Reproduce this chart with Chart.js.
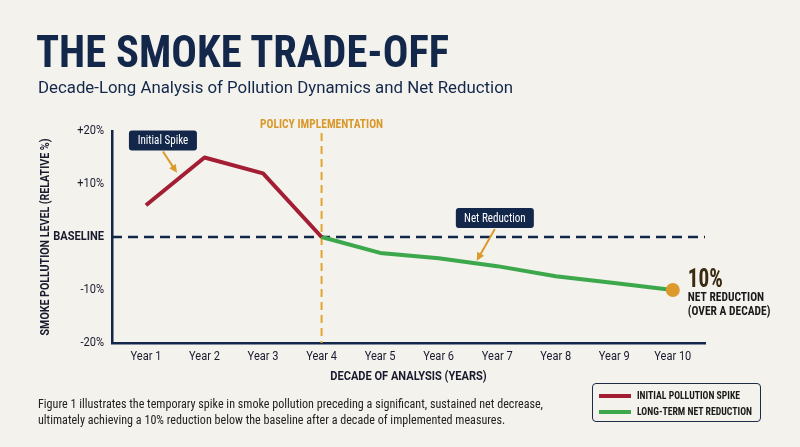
<!DOCTYPE html>
<html>
<head>
<meta charset="utf-8">
<script src="https://cdn.jsdelivr.net/npm/chart.js@4.4.1/dist/chart.umd.min.js"></script>
<style>
  html, body { margin: 0; padding: 0; background: #f3f2ed; }
  #wrap { position: relative; width: 800px; height: 447px; overflow: hidden; }
  #chart { position: absolute; left: 0; top: 0; }
  .narrow { font-family: Roboto, sans-serif; font-stretch: 75%; }
  .fit { position: absolute; display: inline-block; white-space: nowrap; transform-origin: 0 0; }
  #title { left: 36px; top: 27px; font-size: 44px; line-height: 50px; font-weight: bold; color: #13274a; }
  #subtitle { left: 38px; top: 77px; font-family: Roboto, sans-serif; font-size: 16.8px; color: #13274a; }
  .cap { left: 38px; font-size: 13px; line-height: 16px; color: #222; }
  #legend { position: absolute; left: 592px; top: 383px; width: 169px; height: 39px; border: 1.5px solid #1d2b48; border-radius: 4px; box-sizing: border-box; }
  .sw { position: absolute; left: 6px; width: 32px; height: 4px; }
  .lg { left: 44px; font-size: 10.5px; line-height: 12px; font-weight: bold; color: #1a1a1a; }
</style>
</head>
<body>
<div id="wrap">
  <canvas id="chart" width="800" height="447"></canvas>
  <div id="title" class="fit narrow">THE SMOKE TRADE-OFF</div>
  <div id="subtitle" class="fit">Decade-Long Analysis of Pollution Dynamics and Net Reduction</div>
  <div id="cap1" class="fit narrow cap" style="top:396px">Figure 1 illustrates the temporary spike in smoke pollution preceding a significant, sustained net decrease,</div>
  <div id="cap2" class="fit narrow cap" style="top:412px">ultimately achieving a 10% reduction below the baseline after a decade of implemented measures.</div>
  <div id="legend"></div>
</div>
<script>
const years = ['Year 1', 'Year 2', 'Year 3', 'Year 4', 'Year 5', 'Year 6', 'Year 7', 'Year 8', 'Year 9', 'Year 10'];
// relative smoke level in % against the baseline
const spikeYears = [1, 2, 3, 4];
const spikeValues = [6, 15, 12, 0];
const reductionYears = [4, 5, 6, 7, 8, 9, 10];
const reductionValues = [0, -3, -4, -5.5, -7.4, -8.7, -10];
const yTicks = [-20, -10, 0, 10, 20];
const policyYear = 4;

const NAVY = '#13274a';
const RED = '#a31d33';
const GREEN = '#3da74c';
const ORANGE = '#dc9a2c';
const FAM = 'Roboto, sans-serif';
const COND = 'condensed'; // sits in the font style slot -> "condensed bold 12px Roboto"
const SQUEEZE = 0.85;     // the reference face is narrower than Roboto condensed

const canvas = document.getElementById('chart');
const ctx2d = canvas.getContext('2d');
// squeeze every canvas label a bit more around its anchor point
const rawFillText = ctx2d.fillText;
ctx2d.fillText = function (text, x, y) {
    this.save();
    this.translate(x, y);
    this.scale(SQUEEZE, 1);
    rawFillText.call(this, text, 0, 0);
    this.restore();
};

const toPoints = (xs, ys) => xs.map((x, i) => ({x: x, y: ys[i]}));

function roundRect(ctx, x, y, w, h, r) {
    ctx.beginPath();
    ctx.moveTo(x + r, y);
    ctx.arcTo(x + w, y, x + w, y + h, r);
    ctx.arcTo(x + w, y + h, x, y + h, r);
    ctx.arcTo(x, y + h, x, y, r);
    ctx.arcTo(x, y, x + w, y, r);
    ctx.closePath();
}

function arrow(ctx, x1, y1, x2, y2) {
    const a = Math.atan2(y2 - y1, x2 - x1);
    ctx.strokeStyle = ORANGE;
    ctx.fillStyle = ORANGE;
    ctx.lineWidth = 2;
    ctx.beginPath();
    ctx.moveTo(x1, y1);
    ctx.lineTo(x2 - 6 * Math.cos(a), y2 - 6 * Math.sin(a));
    ctx.stroke();
    ctx.beginPath();
    ctx.moveTo(x2, y2);
    ctx.lineTo(x2 - 9 * Math.cos(a - 0.45), y2 - 9 * Math.sin(a - 0.45));
    ctx.lineTo(x2 - 9 * Math.cos(a + 0.45), y2 - 9 * Math.sin(a + 0.45));
    ctx.closePath();
    ctx.fill();
}

function callout(ctx, text, cx, cy, w) {
    ctx.fillStyle = NAVY;
    roundRect(ctx, cx - w / 2, cy - 10, w, 20, 3);
    ctx.fill();
    ctx.fillStyle = '#ffffff';
    ctx.font = COND + ' 13px ' + FAM;
    ctx.textAlign = 'center';
    ctx.textBaseline = 'middle';
    ctx.fillText(text, cx, cy + 0.5);
}

// baseline and policy marker, under the lines
const guides = {
    id: 'guides',
    beforeDatasetsDraw(chart) {
        const {ctx, chartArea, scales: {x, y}} = chart;
        const y0 = y.getPixelForValue(0);
        const xp = x.getPixelForValue(policyYear);
        ctx.save();
        ctx.strokeStyle = NAVY;
        ctx.lineWidth = 2.5;
        ctx.setLineDash([10, 6]);
        ctx.beginPath();
        ctx.moveTo(chartArea.left, y0);
        ctx.lineTo(chartArea.right, y0);
        ctx.stroke();
        ctx.strokeStyle = '#e3a531';
        ctx.lineWidth = 2;
        ctx.setLineDash([8, 5]);
        ctx.beginPath();
        ctx.moveTo(xp, chartArea.top + 2);
        ctx.lineTo(xp, chartArea.bottom);
        ctx.stroke();
        ctx.setLineDash([]);
        ctx.fillStyle = '#d9992a';
        ctx.font = COND + ' bold 13.5px ' + FAM;
        ctx.textAlign = 'center';
        ctx.textBaseline = 'middle';
        ctx.fillText('POLICY IMPLEMENTATION', xp, chartArea.top - 6);
        ctx.restore();
    }
};

// callouts and the end label
const notes = {
    id: 'notes',
    afterDatasetsDraw(chart) {
        const {ctx, scales: {x, y}} = chart;
        ctx.save();
        const sx = x.getPixelForValue(1.29), sy = y.getPixelForValue(18.2);
        callout(ctx, 'Initial Spike', sx, sy, 68);
        arrow(ctx, sx, sy + 11, x.getPixelForValue(1.53), y.getPixelForValue(12.1));
        const nx = x.getPixelForValue(6.96), ny = y.getPixelForValue(3.6);
        callout(ctx, 'Net Reduction', nx, ny, 78);
        arrow(ctx, nx, ny + 11, x.getPixelForValue(6.65), y.getPixelForValue(-4.5));

        const last = reductionValues.length - 1;
        const ex = x.getPixelForValue(reductionYears[last]) + 15;
        const ey = y.getPixelForValue(reductionValues[last]);
        ctx.textAlign = 'left';
        ctx.textBaseline = 'middle';
        ctx.fillStyle = '#3a2a10';
        ctx.font = COND + ' bold 25px ' + FAM;
        ctx.fillText(Math.abs(reductionValues[last]) + '%', ex, ey - 9);
        ctx.fillStyle = '#1a1a1a';
        ctx.font = COND + ' bold 13.5px ' + FAM;
        ctx.fillText('NET REDUCTION', ex, ey + 8);
        ctx.fillText('(OVER A DECADE)', ex, ey + 22);
        ctx.restore();
    }
};

const chart = new Chart(canvas, {
    type: 'line',
    data: {
        datasets: [{
            label: 'INITIAL POLLUTION SPIKE',
            data: toPoints(spikeYears, spikeValues),
            borderColor: RED,
            backgroundColor: RED,
            borderWidth: 4,
            pointRadius: 0,
            borderJoinStyle: 'round',
            tension: 0
        }, {
            label: 'LONG-TERM NET REDUCTION',
            data: toPoints(reductionYears, reductionValues),
            borderColor: GREEN,
            backgroundColor: GREEN,
            borderWidth: 4,
            borderJoinStyle: 'round',
            pointRadius: ctx => ctx.dataIndex === reductionValues.length - 1 ? 7 : 0,
            pointBackgroundColor: ORANGE,
            pointBorderWidth: 0,
            tension: 0
        }]
    },
    options: {
        responsive: false,
        animation: false,
        layout: {padding: {top: 131, right: 95, bottom: 62, left: 0}},
        plugins: {
            legend: {display: false},
            tooltip: {enabled: false}
        },
        scales: {
            x: {
                type: 'linear',
                min: 0.42,
                max: 10.55,
                afterBuildTicks: scale => {
                    scale.ticks = years.map((_, i) => ({value: i + 1}));
                },
                afterFit: scale => { scale.height = 42; },
                grid: {display: false, drawTicks: false},
                border: {color: NAVY, width: 2.5},
                ticks: {
                    padding: 6,
                    color: '#1a1a2e',
                    font: {family: FAM, style: COND, size: 13},
                    callback: v => years[v - 1]
                },
                title: {
                    display: true,
                    text: 'DECADE OF ANALYSIS (YEARS)',
                    color: '#1a1a2e',
                    font: {family: FAM, style: COND, size: 13, weight: 'bold'},
                    padding: {top: 0, bottom: 0}
                }
            },
            y: {
                min: -20,
                max: 20,
                afterBuildTicks: scale => {
                    scale.ticks = yTicks.map(v => ({value: v}));
                },
                afterFit: scale => { scale.width = 112; },
                grid: {display: false, drawTicks: false},
                border: {color: NAVY, width: 2.5},
                ticks: {
                    padding: 8,
                    color: '#1a1a2e',
                    font: ctx => ctx.tick && ctx.tick.value === 0
                        ? {family: FAM, style: COND, size: 13, weight: 'bold'}
                        : {family: FAM, style: COND, size: 13},
                    callback: v => v === 0 ? 'BASELINE' : (v > 0 ? '+' + v + '%' : v + '%')
                },
                title: {
                    display: true,
                    text: 'SMOKE POLLUTION LEVEL (RELATIVE %)',
                    color: '#1a1a2e',
                    font: {family: FAM, style: COND, size: 12.5, weight: 'bold'},
                    padding: {top: 38, bottom: 0}
                }
            }
        }
    },
    plugins: [guides, notes]
});

// legend box built from the datasets
const legend = document.getElementById('legend');
const legendWidths = [103, 115];
chart.data.datasets.forEach((ds, i) => {
    const sw = document.createElement('div');
    sw.className = 'sw';
    sw.style.top = (10 + i * 16) + 'px';
    sw.style.background = ds.borderColor;
    legend.appendChild(sw);
    const row = document.createElement('div');
    row.className = 'fit narrow lg';
    row.style.top = (6 + i * 16) + 'px';
    row.textContent = ds.label;
    legend.appendChild(row);
    fitWidth(row, legendWidths[i]);
});

function fitWidth(el, target) {
    const w = el.getBoundingClientRect().width;
    const k = target / w;
    el.style.transform = 'scaleX(' + k + ')';
    return k;
}
fitWidth(document.getElementById('title'), 413);
fitWidth(document.getElementById('subtitle'), 475);
const k = fitWidth(document.getElementById('cap1'), 505);
document.getElementById('cap2').style.transform = 'scaleX(' + k + ')';
</script>
</body>
</html>
